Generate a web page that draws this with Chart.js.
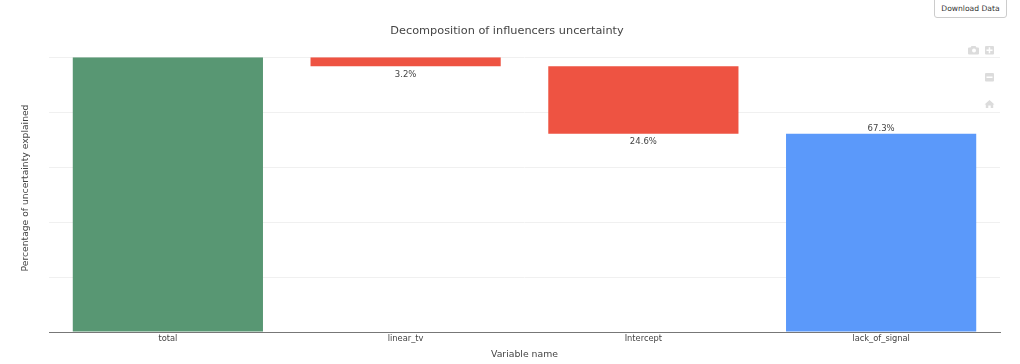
<!DOCTYPE html>
<html><head><meta charset="utf-8">
<script src="https://cdn.jsdelivr.net/npm/chart.js@4"></script>
<style>
html,body{margin:0;padding:0;background:#fff;width:1020px;height:364px;overflow:hidden}
#wrap{position:relative;width:1020px;height:364px}
canvas{position:absolute;left:0;top:0}
#dl{position:absolute;left:934px;top:-4px;width:73px;height:22px;box-sizing:border-box;border:1px solid #ccc;border-radius:3px;background:#fff;color:#333;font:7.6px/23px "DejaVu Sans",sans-serif;text-align:center;padding:0;white-space:nowrap}
svg.mb{position:absolute;left:960px;top:40px}
</style></head><body>
<div id="wrap">
<canvas id="c" width="1020" height="364"></canvas>
<div id="dl">Download Data</div>
<svg class="mb" width="40" height="72" viewBox="0 0 40 72">
 <g fill="#dcdcdc">
  <path d="M9 7.500h1.500l1-1.500h4l1 1.500h1.500a1 1 0 0 1 1 1v5a1 1 0 0 1-1 1H9a1 1 0 0 1-1-1v-5a1 1 0 0 1 1-1z"/>
  <rect x="25" y="6" width="9" height="8.500" rx="1"/>
  <rect x="25" y="33" width="9" height="8.500" rx="1"/>
  <path d="M29.500 60l5 4.500h-1.300v3.500h-2.500v-2.500h-2.400v2.500h-2.500v-3.500H24.500z"/>
 </g>
 <g fill="#fff">
  <circle cx="14" cy="10.500" r="2"/>
  <rect x="26.500" y="9.500" width="6" height="1.500"/><rect x="28.700" y="7.300" width="1.500" height="6"/>
  <rect x="26.500" y="36.500" width="6" height="1.500"/>
 </g>
</svg>
</div>
<script>
const categories = ["total", "linear_tv", "Intercept", "lack_of_signal"];
const barBottoms = [0, 96.8, 72.2, 0];
const barTops = [100, 100, 96.8, 72.2];
const barLabels = ["", "3.2%", "24.6%", "67.3%"];
const labelBelow = [false, true, true, false];
const barColors = ["#589773", "#EE5342", "#EE5342", "#5B99FA"];
const yTicks = [0, 20, 40, 60, 80, 100];
const chartTitle = "Decomposition of influencers uncertainty";
const xTitle = "Variable name";
const yTitle = "Percentage of uncertainty explained";

const FONT = '"DejaVu Sans", sans-serif';
const barText = {
  id: "barText",
  afterDatasetsDraw(chart) {
    const { ctx, scales: { x, y } } = chart;
    ctx.save();
    ctx.font = "8.5px " + FONT;
    ctx.fillStyle = "#444";
    ctx.textAlign = "center";
    barLabels.forEach((t, i) => {
      if (!t) return;
      const px = x.getPixelForValue(i);
      if (labelBelow[i]) { ctx.textBaseline = "top"; ctx.fillText(t, px, y.getPixelForValue(barBottoms[i]) + 4); }
      else { ctx.textBaseline = "bottom"; ctx.fillText(t, px, y.getPixelForValue(barTops[i]) - 1); }
    });
    // y axis title
    ctx.translate(25.5, 188);
    ctx.rotate(-Math.PI / 2);
    ctx.font = "9.2px " + FONT;
    ctx.textBaseline = "middle";
    ctx.fillText(yTitle, 0, 0);
    ctx.restore();
  }
};

new Chart(document.getElementById("c"), {
  type: "bar",
  data: {
    labels: categories,
    datasets: [{
      data: barBottoms.map((b, i) => [b, barTops[i]]),
      backgroundColor: barColors,
      borderWidth: 0,
      categoryPercentage: 1,
      barPercentage: 0.8
    }]
  },
  plugins: [barText],
  options: {
    responsive: false,
    animation: false,
    devicePixelRatio: 1,
    layout: { padding: { left: 0, right: 6, top: 0, bottom: 0 } },
    plugins: {
      legend: { display: false },
      tooltip: { enabled: false },
      title: {
        display: true,
        text: chartTitle,
        color: "#444",
        font: { family: FONT, size: 11.3, weight: "normal", lineHeight: 1.2 },
        padding: { top: 24, bottom: 19.8 }
      }
    },
    scales: {
      x: {
        grid: { display: false, drawTicks: false },
        border: { color: "#777", width: 1 },
        ticks: { color: "#444", font: { family: FONT, size: 8.3 }, padding: 2, maxRotation: 0 },
        title: { display: true, text: xTitle, color: "#444", font: { family: FONT, size: 9.3 }, padding: { top: 5, bottom: 4 } },
        afterFit(s) { s.height = 32; }
      },
      y: {
        min: 0, max: 100,
        afterBuildTicks(s) { s.ticks = yTicks.map(v => ({ value: v })); },
        grid: { color: "#f0f0f0", lineWidth: 1, drawTicks: false },
        border: { display: false },
        ticks: { display: false },
        afterFit(s) { s.width = 49; }
      },
      rightGutter: {
        axis: "y",
        position: "right",
        grid: { display: false, drawTicks: false },
        border: { display: false },
        ticks: { display: false },
        afterFit(s) { s.width = 14; }
      }
    }
  }
});
</script>
</body></html>
